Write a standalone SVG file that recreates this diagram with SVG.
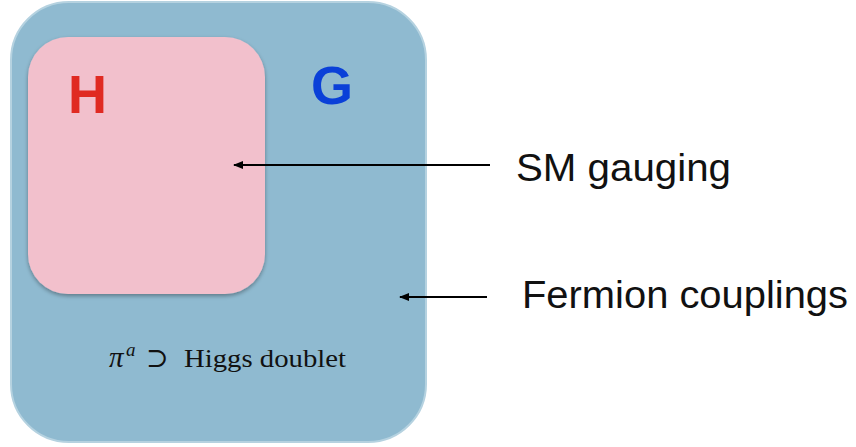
<svg xmlns="http://www.w3.org/2000/svg" width="856" height="447" viewBox="0 0 856 447">
<defs>
<filter id="sh" x="-10%" y="-10%" width="120%" height="125%">
<feGaussianBlur in="SourceAlpha" stdDeviation="2"/>
<feOffset dy="2" result="b"/>
<feComponentTransfer><feFuncA type="linear" slope="0.35"/></feComponentTransfer>
<feMerge><feMergeNode/><feMergeNode in="SourceGraphic"/></feMerge>
</filter>
<marker id="ah" viewBox="0 0 10 10" refX="1" refY="5" markerWidth="10" markerHeight="10" markerUnits="userSpaceOnUse" orient="auto">
<path d="M10,1 L0,5 L10,9 Z" fill="#000"/>
</marker>
</defs>
<style>
.lbl{font-family:"Liberation Sans",Arial,sans-serif;font-size:39px;fill:#111}
.big{font-family:"Liberation Sans",Arial,sans-serif;font-weight:bold;font-size:54px}
.math{font-family:"Liberation Serif","DejaVu Serif",serif;fill:#111}
.conn{stroke:#000;stroke-width:2;fill:none;marker-start:url(#ah)}
</style>
<rect width="856" height="447" fill="#fff"/>
<g id="G">
<rect x="11" y="2" width="415" height="440" rx="58" ry="58" fill="#8FBAD0" stroke="#B5D2E0" stroke-width="2"/>
<text class="big" x="311" y="104" fill="#0A40D8">G</text>
<g id="pi">
<text class="math" x="109" y="367" font-size="29" font-style="italic">π</text>
<text class="math" x="126" y="356" font-size="19" font-style="italic">a</text>
<text class="math" x="146" y="367" font-size="27">⊃</text>
<text class="math" x="184" y="367" font-size="26" textLength="162" lengthAdjust="spacingAndGlyphs">Higgs doublet</text>
</g>
</g>
<g id="H">
<rect x="28" y="37" width="237" height="257" rx="40" ry="40" fill="#F2C0CC" filter="url(#sh)"/>
<text class="big" x="68" y="113" fill="#E02A22">H</text>
</g>
<g id="connectors">
<line class="conn" x1="234" y1="165" x2="490" y2="165"/>
<line class="conn" x1="400" y1="297" x2="487" y2="297"/>
</g>
<g id="labels">
<text class="lbl" x="516" y="181" textLength="215" lengthAdjust="spacingAndGlyphs">SM gauging</text>
<text class="lbl" x="522" y="308" textLength="326" lengthAdjust="spacingAndGlyphs">Fermion couplings</text>
</g>
</svg>
